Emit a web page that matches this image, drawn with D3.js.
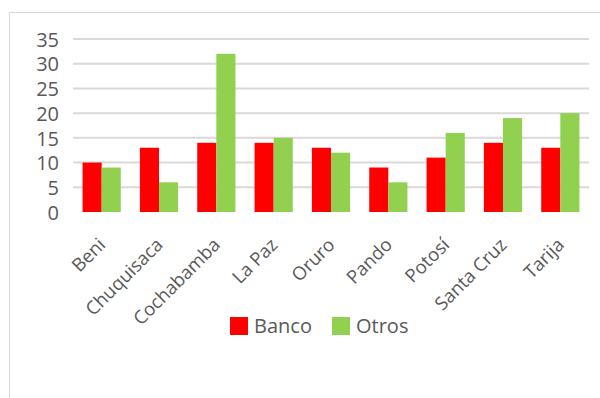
<!DOCTYPE html>
<html>
<head>
<meta charset="utf-8">
<script src="https://cdn.jsdelivr.net/npm/d3@7"></script>
<style>
  html, body { margin: 0; padding: 0; background: #fff; }
  svg { display: block; }
</style>
</head>
<body>
<div id="chart"></div>
<script>
const categories = ["Beni", "Chuquisaca", "Cochabamba", "La Paz", "Oruro", "Pando", "Potosí", "Santa Cruz", "Tarija"];
const seriesNames = ["Banco", "Otros"];
const banco = [10, 13, 14, 14, 13, 9, 11, 14, 13];
const otros = [9, 6, 32, 15, 12, 6, 16, 19, 20];
const yTicks = [0, 5, 10, 15, 20, 25, 30, 35];
const colors = ["#FF0000", "#92D050"];

const W = 600, H = 398;
const margin = { left: 73, right: 11, top: 39, bottom: 186 };
const font = "'Open Sans', sans-serif";
const textColor = "#595959";

const svg = d3.select("#chart").append("svg")
  .attr("width", W).attr("height", H);

// frame lines (top and left edges)
svg.append("line").attr("x1", 9.5).attr("x2", W).attr("y1", 12.5).attr("y2", 12.5)
  .attr("stroke", "#d9d9d9").attr("stroke-width", 1);
svg.append("line").attr("x1", 9.5).attr("x2", 9.5).attr("y1", 12.5).attr("y2", H)
  .attr("stroke", "#d9d9d9").attr("stroke-width", 1);

const x = d3.scaleBand().domain(categories)
  .range([margin.left, W - margin.right])
  .paddingInner(1 / 3).paddingOuter(1 / 6);
const xs = d3.scaleBand().domain(seriesNames).range([0, x.bandwidth()]);
const y = d3.scaleLinear().domain([0, 35]).range([H - margin.bottom, margin.top]);

// gridlines
svg.append("g").selectAll("line").data(yTicks.filter(t => t > 0)).join("line")
  .attr("x1", margin.left).attr("x2", W - margin.right)
  .attr("y1", d => y(d)).attr("y2", d => y(d))
  .attr("stroke", "#d9d9d9").attr("stroke-width", 2);

// y axis labels
const yAxis = d3.axisLeft(y).tickValues(yTicks).tickSize(0).tickPadding(0);
const gy = svg.append("g").attr("transform", "translate(59,0)").call(yAxis);
gy.select(".domain").remove();
gy.selectAll("text").attr("font-family", font).attr("font-size", 20)
  .attr("fill", textColor).attr("dy", "0.36em");

// bars
const data = categories.map((c, i) => ({ c, vals: [banco[i], otros[i]] }));
const groups = svg.append("g").selectAll("g").data(data).join("g")
  .attr("transform", d => `translate(${x(d.c)},0)`);
groups.selectAll("rect").data(d => d.vals.map((v, j) => ({ v, s: seriesNames[j], j })))
  .join("rect")
  .attr("x", d => xs(d.s))
  .attr("width", xs.bandwidth())
  .attr("y", d => y(d.v))
  .attr("height", d => y(0) - y(d.v))
  .attr("fill", d => colors[d.j]);

// x axis labels, rotated
const xAxis = d3.axisBottom(x).tickSize(0).tickPadding(0);
const gx = svg.append("g").attr("transform", `translate(0,${y(0)})`).call(xAxis);
gx.select(".domain").remove();
gx.selectAll("text")
  .attr("font-family", font).attr("font-size", 18.5).attr("fill", textColor)
  .attr("text-anchor", "end")
  .attr("dy", 0).attr("y", 0)
  .attr("transform", "translate(5,34) rotate(-45)");

// legend
const legend = svg.append("g");
const lx = [230, 332];
seriesNames.forEach((s, i) => {
  legend.append("rect").attr("x", lx[i]).attr("y", 317).attr("width", 18).attr("height", 18)
    .attr("fill", colors[i]);
  legend.append("text").attr("x", lx[i] + 24).attr("y", 326).attr("dy", "0.36em")
    .attr("font-family", font).attr("font-size", 20).attr("fill", textColor)
    .text(s);
});
</script>
</body>
</html>
